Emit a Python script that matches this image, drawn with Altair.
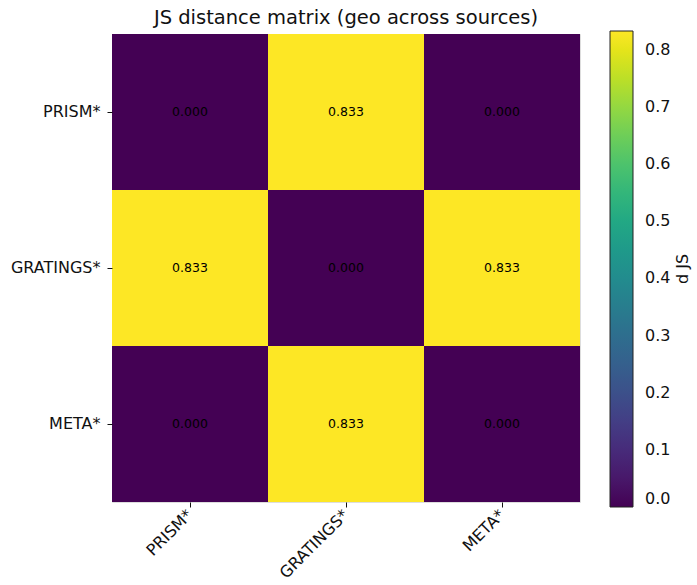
import altair as alt
import pandas as pd

rows = ["PRISM*", "GRATINGS*", "META*"]
cols = ["PRISM*", "GRATINGS*", "META*"]
values = [
    [0.000, 0.833, 0.000],
    [0.833, 0.000, 0.833],
    [0.000, 0.833, 0.000],
]
cbar_ticks = [0.0, 0.1, 0.2, 0.3, 0.4, 0.5, 0.6, 0.7, 0.8]

records = []
for i, r in enumerate(rows):
    for j, c in enumerate(cols):
        records.append({"row": r, "col": c, "v": values[i][j], "label": f"{values[i][j]:.3f}"})
df = pd.DataFrame(records)
vmax = max(max(r) for r in values)

FONT = "DejaVu Sans"

base = alt.Chart(df)

heat = base.mark_rect().encode(
    x=alt.X("col:N", sort=cols, title=None,
            scale=alt.Scale(paddingInner=0, paddingOuter=0),
            axis=alt.Axis(labelAngle=315, labelAlign="right", labelBaseline="middle",
                          labelFontSize=16, labelColor="#111", tickColor="#111",
                          tickSize=5, labelPadding=5, domain=False, labelFont=FONT)),
    y=alt.Y("row:N", sort=rows, title=None,
            scale=alt.Scale(paddingInner=0, paddingOuter=0),
            axis=alt.Axis(labelFontSize=16, labelColor="#111", tickColor="#111",
                          tickSize=5, labelPadding=7, domain=False, labelFont=FONT)),
    color=alt.Color("v:Q", title=None,
                    scale=alt.Scale(scheme="viridis", domain=[0, vmax]),
                    legend=alt.Legend(orient="none", legendX=498, legendY=-3,
                                      direction="vertical",
                                      gradientLength=476, gradientThickness=23,
                                      gradientStrokeColor="#222", gradientStrokeWidth=1,
                                      values=cbar_ticks, format=".1f",
                                      labelFontSize=16, labelFont=FONT, labelColor="#111",
                                      labelOffset=12)),
)

text = base.mark_text(fontSize=12.5, font=FONT, color="black").encode(
    x=alt.X("col:N", sort=cols),
    y=alt.Y("row:N", sort=rows),
    text="label:N",
)

cbar_title = alt.Chart(pd.DataFrame({"t": ["d JS"]})).mark_text(
    angle=270, fontSize=16, font=FONT, color="#111"
).encode(x=alt.value(571), y=alt.value(235), text="t:N")

chart = alt.layer(heat, text, cbar_title).properties(
    width=468, height=468,
    title=alt.TitleParams("JS distance matrix (geo across sources)", fontSize=19.5,
                          font=FONT, fontWeight="normal", color="#111", offset=3),
    autosize=alt.AutoSizeParams(type="none"),
    padding={"left": 112, "top": 34, "right": 117, "bottom": 83},
).configure_view(stroke="#111", strokeWidth=1).configure(background="white")

chart.save("out.html", embed_options={"renderer": "svg", "actions": False})
